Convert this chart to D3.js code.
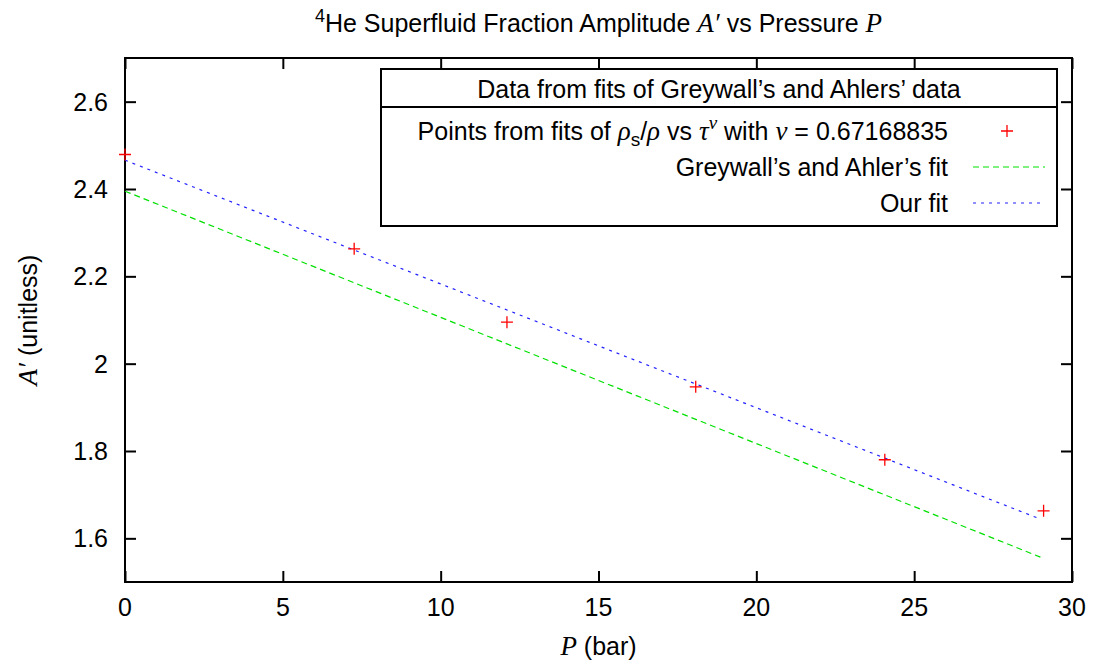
<!DOCTYPE html>
<html>
<head>
<meta charset="utf-8">
<script src="https://cdn.jsdelivr.net/npm/d3@7"></script>
<style>
  body { margin: 0; background: #fff; }
  svg { display: block; }
  text { font-family: "Liberation Sans", Arial, sans-serif; font-size: 25px; fill: #000; }
  .sym { font-family: "Liberation Serif", "Times New Roman", serif; font-style: italic; font-size: 27px; }
</style>
</head>
<body>
<div id="chart"></div>
<script>
// measured points
const pressure = [0, 7.26, 12.1, 18.08, 24.07, 29.1];
const amplitude = [2.479, 2.263, 2.095, 1.947, 1.780, 1.663];

// fit lines, drawn over 0..29 bar
const fitP = [0, 29];
const greywallFit = [2.395, 1.557];
const ourFit = [2.466, 1.644];

const xTicks = [0, 5, 10, 15, 20, 25, 30];
const yTicks = [1.6, 1.8, 2, 2.2, 2.4, 2.6];

const config = {
  width: 1096,
  height: 661,
  margins: { top: 58, right: 24, bottom: 79, left: 125 }
};

const svg = d3.select('#chart').append('svg')
  .attr('width', config.width)
  .attr('height', config.height);

const x = d3.scaleLinear()
  .domain([0, 30])
  .range([config.margins.left, config.width - config.margins.right]);

const y = d3.scaleLinear()
  .domain([1.5, 2.7])
  .range([config.height - config.margins.bottom, config.margins.top]);

const tick = 11;

// gnuplot-style inward ticks on all four sides
function ticks(axis, sel, transform, size) {
  sel.append('g')
    .attr('transform', transform)
    .call(axis.tickSize(size).tickSizeOuter(0))
    .call(g => g.select('.domain').remove())
    .call(g => g.selectAll('.tick line').attr('stroke', '#000').attr('stroke-width', 2));
}

const yBot = y.range()[0], yTop = y.range()[1];
const xLeft = x.range()[0], xRight = x.range()[1];

ticks(d3.axisBottom(x).tickValues(xTicks).tickFormat(''), svg, `translate(0,${yBot})`, -tick);
ticks(d3.axisTop(x).tickValues(xTicks).tickFormat(''), svg, `translate(0,${yTop})`, -tick);
ticks(d3.axisLeft(y).tickValues(yTicks).tickFormat(''), svg, `translate(${xLeft},0)`, -tick);
ticks(d3.axisRight(y).tickValues(yTicks).tickFormat(''), svg, `translate(${xRight},0)`, -tick);

// tick labels
svg.append('g').selectAll('text')
  .data(xTicks)
  .join('text')
    .attr('x', d => x(d))
    .attr('y', yBot + 34)
    .attr('text-anchor', 'middle')
    .text(d => d);

svg.append('g').selectAll('text')
  .data(yTicks)
  .join('text')
    .attr('x', xLeft - 17)
    .attr('y', d => y(d) + 9)
    .attr('text-anchor', 'end')
    .text(d => d);

// frame
svg.append('rect')
  .attr('x', xLeft).attr('y', yTop)
  .attr('width', xRight - xLeft).attr('height', yBot - yTop)
  .attr('fill', 'none').attr('stroke', '#000').attr('stroke-width', 2);

// fits
const line = d3.line().x(d => x(d[0])).y(d => y(d[1]));

svg.append('path')
  .datum(d3.zip(fitP, greywallFit))
  .attr('d', line)
  .attr('fill', 'none').attr('stroke', '#00e000').attr('stroke-width', 1.2)
  .attr('stroke-dasharray', '6,4');

svg.append('path')
  .datum(d3.zip(fitP, ourFit))
  .attr('d', line)
  .attr('fill', 'none').attr('stroke', '#2020ff').attr('stroke-width', 1.2)
  .attr('stroke-dasharray', '3,5');

// points
const plus = (g, s) => g.append('path')
  .attr('d', `M${-s},0H${s}M0,${-s}V${s}`)
  .attr('stroke', '#ff0000').attr('stroke-width', 1.3).attr('fill', 'none');

svg.append('g').selectAll('g')
  .data(d3.zip(pressure, amplitude))
  .join('g')
    .attr('transform', d => `translate(${x(d[0])},${y(d[1])})`)
    .each(function () { plus(d3.select(this), 6); });

// legend
const lg = { x0: 381, x1: 1057, y0: 69, y1: 226, div: 107 };
svg.append('rect')
  .attr('x', lg.x0).attr('y', lg.y0)
  .attr('width', lg.x1 - lg.x0).attr('height', lg.y1 - lg.y0)
  .attr('fill', '#fff').attr('stroke', '#000').attr('stroke-width', 2);
svg.append('line')
  .attr('x1', lg.x0).attr('x2', lg.x1).attr('y1', lg.div).attr('y2', lg.div)
  .attr('stroke', '#000').attr('stroke-width', 2);

svg.append('text')
  .attr('x', (lg.x0 + lg.x1) / 2).attr('y', 98)
  .attr('text-anchor', 'middle')
  .text('Data from fits of Greywall\u2019s and Ahlers\u2019 data');

const t1 = svg.append('text').attr('x', 948).attr('y', 140).attr('text-anchor', 'end');
t1.append('tspan').text('Points from fits of ');
t1.append('tspan').attr('class', 'sym').text('\u03c1');
t1.append('tspan').attr('font-size', 19).attr('dy', 6).text('s');
t1.append('tspan').attr('dy', -6).text('/');
t1.append('tspan').attr('class', 'sym').text('\u03c1');
t1.append('tspan').text(' vs ');
t1.append('tspan').attr('class', 'sym').text('\u03c4');
t1.append('tspan').attr('class', 'sym').style('font-size', '19px').attr('dy', -11).text('\u03bd');
t1.append('tspan').attr('dy', 11).text(' with ');
t1.append('tspan').attr('class', 'sym').text('\u03bd');
t1.append('tspan').text(' = 0.67168835');

const g1 = svg.append('g').attr('transform', 'translate(1007,131)');
plus(g1, 6);

svg.append('text').attr('x', 948).attr('y', 176).attr('text-anchor', 'end')
  .text('Greywall\u2019s and Ahler\u2019s fit');
svg.append('line').attr('x1', 973).attr('x2', 1045).attr('y1', 167).attr('y2', 167)
  .attr('stroke', '#00e000').attr('stroke-width', 1.2).attr('stroke-dasharray', '6,4');

svg.append('text').attr('x', 948).attr('y', 212).attr('text-anchor', 'end')
  .text('Our fit');
svg.append('line').attr('x1', 973).attr('x2', 1045).attr('y1', 203).attr('y2', 203)
  .attr('stroke', '#2020ff').attr('stroke-width', 1.2).attr('stroke-dasharray', '3,5');

// title
const title = svg.append('text')
  .attr('x', (xLeft + xRight) / 2).attr('y', 32)
  .attr('text-anchor', 'middle');
title.append('tspan').attr('font-size', 18).attr('dy', -10).text('4');
title.append('tspan').attr('dy', 10).text('He Superfluid Fraction Amplitude ');
title.append('tspan').attr('class', 'sym').text('A\u2032');
title.append('tspan').text(' vs Pressure ');
title.append('tspan').attr('class', 'sym').text('P');

// axis labels
const xl = svg.append('text')
  .attr('x', (xLeft + xRight) / 2).attr('y', 655)
  .attr('text-anchor', 'middle');
xl.append('tspan').attr('class', 'sym').text('P');
xl.append('tspan').text(' (bar)');

const yl = svg.append('text')
  .attr('transform', `translate(37,${(yTop + yBot) / 2}) rotate(-90)`)
  .attr('text-anchor', 'middle');
yl.append('tspan').attr('class', 'sym').text('A\u2032');
yl.append('tspan').text(' (unitless)');
</script>
</body>
</html>
